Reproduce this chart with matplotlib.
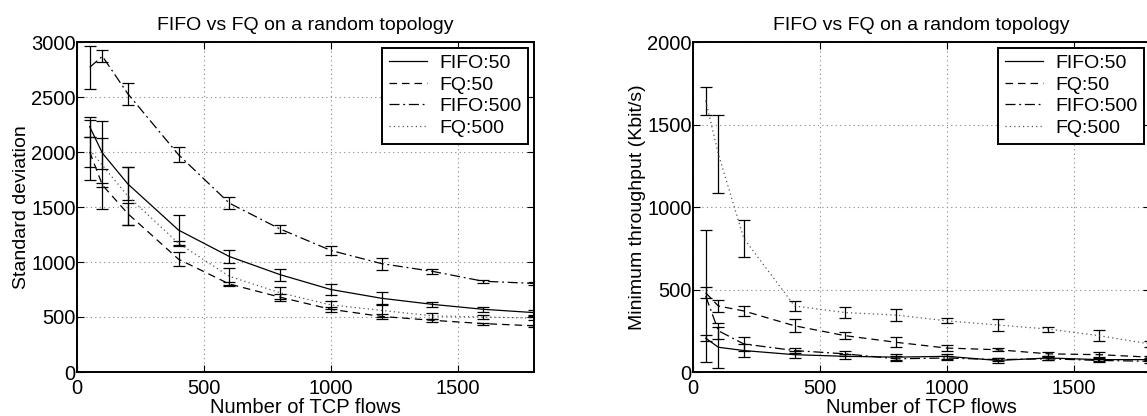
import matplotlib
matplotlib.use('Agg')
import matplotlib.pyplot as plt
from matplotlib.lines import Line2D

plt.rcParams['font.family'] = ['Liberation Sans', 'DejaVu Sans']

# number of TCP flows
flows = [50, 100, 200, 400, 600, 800, 1000, 1200, 1400, 1600, 1800]
labels = ['FIFO:50', 'FQ:50', 'FIFO:500', 'FQ:500']

# standard deviation (left)
std_fifo50 = [2230, 1990, 1710, 1290, 1050, 885, 750, 670, 615, 570, 540]
std_fifo50_err = [90, 140, 150, 135, 55, 55, 50, 60, 25, 20, 20]
std_fq50 = [2000, 1700, 1440, 1025, 800, 680, 570, 505, 470, 440, 420]
std_fq50_err = [140, 20, 100, 65, 20, 30, 25, 25, 15, 10, 10]
std_fifo500 = [2770, 2870, 2530, 1975, 1535, 1300, 1105, 985, 915, 825, 805]
std_fifo500_err = [195, 55, 100, 70, 55, 40, 45, 55, 25, 15, 10]
std_fq500 = [2020, 1880, 1600, 1170, 870, 720, 610, 560, 510, 500, 490]
std_fq500_err = [270, 400, 260, 20, 80, 55, 35, 60, 25, 20, 20]

# minimum throughput in Kbit/s (right)
min_fifo50 = [205, 150, 130, 105, 95, 90, 95, 70, 85, 75, 75]
min_fifo50_err = [20, 125, 40, 20, 15, 20, 15, 15, 10, 10, 10]
min_fq50 = [480, 400, 370, 280, 220, 180, 145, 135, 110, 105, 90]
min_fq50_err = [33, 38, 30, 40, 20, 30, 20, 10, 10, 15, 10]
min_fifo500 = [460, 250, 170, 130, 110, 80, 85, 75, 80, 70, 65]
min_fifo500_err = [400, 50, 40, 15, 15, 15, 10, 10, 10, 10, 10]
min_fq500 = [1645, 1320, 810, 400, 360, 345, 310, 285, 260, 220, 170]
min_fq500_err = [85, 235, 110, 30, 35, 35, 15, 35, 15, 35, 20]

styles = ['-', (0, (6, 4)), (0, (8, 3, 1.5, 3)), (0, (1, 2.5))]
colors = ['black', 'black', 'black', '#555555']


def draw_panel(ax, series, errs, ylim, yticks, ylabel):
    handles = []
    for y, e, ls, c, lab in zip(series, errs, styles, colors, labels):
        ax.errorbar(flows, y, yerr=e, color=c, ecolor='black', elinewidth=0.9,
                    capsize=4.5, capthick=0.9, lw=0.9, linestyle=ls)
        handles.append(Line2D([], [], color=c, lw=0.9, linestyle=ls, label=lab))
    ax.set_xlim(0, 1800)
    ax.set_ylim(*ylim)
    ax.set_xticks([0, 500, 1000, 1500])
    ax.set_yticks(yticks)
    ax.grid(True, linestyle=(0, (1, 3)), color='#888888', lw=0.8)
    ax.tick_params(direction='in', length=5, labelsize=14.5, pad=1, top=True, right=True)
    ax.tick_params(axis='x', pad=5)
    for s in ax.spines.values():
        s.set_linewidth(1.4)
    ax.set_title('FIFO vs FQ on a random topology', fontsize=14, pad=9)
    ax.set_xlabel('Number of TCP flows', fontsize=14.5, labelpad=0)
    ax.set_ylabel(ylabel, fontsize=14, labelpad=1)
    leg = ax.legend(handles=handles, loc='upper right', fontsize=14, fancybox=False,
                    framealpha=1, edgecolor='black', handlelength=2.0,
                    borderaxespad=0.3, labelspacing=0.2, borderpad=0.35,
                    handletextpad=0.6)
    leg.get_frame().set_linewidth(1.4)


fig = plt.figure(figsize=(11.47, 4.16), dpi=100)
ax1 = fig.add_axes([77 / 1147, 44 / 416, 457 / 1147, 330 / 416])
ax2 = fig.add_axes([693 / 1147, 44 / 416, 457 / 1147, 330 / 416])

draw_panel(ax1, [std_fifo50, std_fq50, std_fifo500, std_fq500],
           [std_fifo50_err, std_fq50_err, std_fifo500_err, std_fq500_err],
           (0, 3000), [0, 500, 1000, 1500, 2000, 2500, 3000], 'Standard deviation')
draw_panel(ax2, [min_fifo50, min_fq50, min_fifo500, min_fq500],
           [min_fifo50_err, min_fq50_err, min_fifo500_err, min_fq500_err],
           (0, 2000), [0, 500, 1000, 1500, 2000], 'Minimum throughput (Kbit/s)')

fig.savefig('out.png', dpi=100)
